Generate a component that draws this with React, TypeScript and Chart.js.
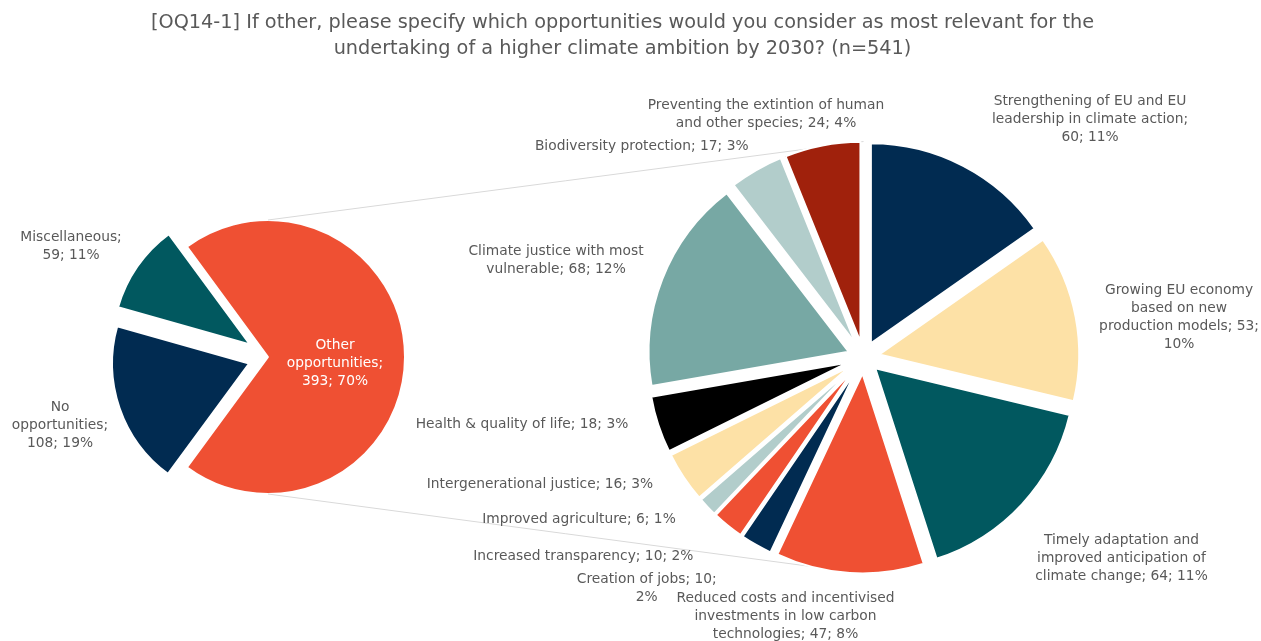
import React, { useEffect, useRef } from "react";
import { Chart, registerables } from "chart.js";

Chart.register(...registerables);

// ---------- DATA ----------
const titleLines = [
  "[OQ14-1] If other, please specify which opportunities would you consider as most relevant for the",
  "undertaking of a higher climate ambition by 2030? (n=541)",
];

// Main (left) pie
const mainCategories = ["Other\nopportunities", "No\nopportunities", "Miscellaneous"];
const mainValues = [393, 108, 59];
const mainPercents = ["70%", "19%", "11%"];
const mainSeparators = [["\n", " "], ["\n", " "], ["\n", " "]];

// Secondary (right) pie – breakdown of "Other opportunities"
const subCategories = [
  "Strengthening of EU and EU\nleadership in climate action",
  "Growing EU economy\nbased on new\nproduction models",
  "Timely adaptation and\nimproved anticipation of\nclimate change",
  "Reduced costs and incentivised\ninvestments in low carbon\ntechnologies",
  "Creation of jobs",
  "Increased transparency",
  "Improved agriculture",
  "Intergenerational justice",
  "Health & quality of life",
  "Climate justice with most\nvulnerable",
  "Biodiversity protection",
  "Preventing the extintion of human\nand other species",
];
const subValues = [60, 53, 64, 47, 10, 10, 6, 16, 18, 68, 17, 24];
const subPercents = ["11%", "10%", "11%", "8%", "2%", "2%", "1%", "3%", "3%", "12%", "3%", "4%"];
const subSeparators = [
  ["\n", " "], [" ", "\n"], [" ", " "], [" ", " "], [" ", "\n"], [" ", " "],
  [" ", " "], [" ", " "], [" ", " "], [" ", " "], [" ", " "], [" ", " "],
];

// ---------- STYLE / LAYOUT ----------
const W = 1261;
const H = 641;
const TEXT = "#595959";
const FONT = "'DejaVu Sans', 'Open Sans', sans-serif";
const LABEL_SIZE = 13.8;
const LINE_H = 18;
const LABEL_GAP = 20;

const NAVY = "#012B51";
const YELLOW = "#FDE1A6";
const DTEAL = "#01585F";
const ORANGE = "#EF5033";
const LBLUE = "#B2CDCB";
const BLACK = "#000000";
const TEAL = "#77A8A4";
const DRED = "#A0210C";

const mainColors = [ORANGE, NAVY, DTEAL];
const mainExplode = [0, 20, 22];
const mainInside = [true, false, false];
const mainLabelColors = ["#FFFFFF", TEXT, TEXT];
const mainNudges = [[-1.5, 6], [-40.6, 10.5], [-49.8, -9.1]];
const MAIN_CENTER = { x: 268, y: 357 };
const MAIN_RADIUS = 137;

const subColors = [NAVY, YELLOW, DTEAL, ORANGE, NAVY, ORANGE, LBLUE, YELLOW, BLACK, TEAL, LBLUE, DRED];
const SUB_EXPLODE = 16;
const subNudges = [
  [117.6, -28.4], [83.7, 3.9], [84.9, 40.1], [-62.9, 23], [-99.6, 26.1], [-131.9, 14.9],
  [-114, -1.7], [-127.1, -4.3], [-117.2, -6.8], [-87.6, -11.8], [-104.6, -5.9], [-52.5, -11.1],
];
const SUB_CENTER = { x: 863.5, y: 357.5 };
const SUB_RADIUS = 200;

const TITLE_POS = { x: 622.5, y: 23, lineH: 25.5, size: 19.3 };

// ---------- HELPERS ----------
function buildLines(cats: string[], vals: number[], pcts: string[], seps: string[][]) {
  return cats.map((c, i) => `${c};${seps[i][0]}${vals[i]};${seps[i][1]}${pcts[i]}`.split("\n"));
}

function paddingFor(center: { x: number; y: number }, half: number) {
  return {
    left: center.x - half,
    right: W - center.x - half,
    top: center.y - half,
    bottom: H - center.y - half,
  };
}

// Explodes each slice outwards along its bisector by a fixed pixel distance
function explodePlugin(explode: number[]) {
  return {
    id: "explodeSlices",
    beforeDatasetsDraw(chart: any) {
      const meta = chart.getDatasetMeta(0);
      meta.data.forEach((arc: any, i: number) => {
        if (arc.__exploded) return;
        const proto = Object.getPrototypeOf(arc);
        const d = explode[i] || 0;
        arc.draw = function (ctx: CanvasRenderingContext2D) {
          const half = (this.startAngle + this.endAngle) / 2;
          ctx.save();
          ctx.translate(Math.cos(half) * d, Math.sin(half) * d);
          proto.draw.call(this, ctx);
          ctx.restore();
        };
        arc.__exploded = true;
      });
    },
  };
}

function labelPlugin(lines: string[][], nudges: number[][], inside: boolean[], colors: string[], explode: number[]) {
  return {
    id: "sliceLabels",
    afterDatasetsDraw(chart: any) {
      const ctx = chart.ctx;
      const meta = chart.getDatasetMeta(0);
      ctx.save();
      ctx.font = `${LABEL_SIZE}px ${FONT}`;
      ctx.textAlign = "center";
      ctx.textBaseline = "middle";
      meta.data.forEach((arc: any, i: number) => {
        const p = arc.getProps(["x", "y", "startAngle", "endAngle", "outerRadius"], true);
        const mid = (p.startAngle + p.endAngle) / 2;
        const off = explode[i] || 0;
        const dist = inside[i] ? p.outerRadius * 0.5 + off : p.outerRadius + off + LABEL_GAP;
        const ax = p.x + Math.cos(mid) * dist + nudges[i][0];
        const ay = p.y + Math.sin(mid) * dist + nudges[i][1];
        const ls = lines[i];
        ctx.fillStyle = colors[i];
        ls.forEach((t, k) => ctx.fillText(t, ax, ay + (k - (ls.length - 1) / 2) * LINE_H));
      });
      ctx.restore();
    },
  };
}

export default function App() {
  const leftRef = useRef<HTMLCanvasElement>(null);
  const rightRef = useRef<HTMLCanvasElement>(null);

  useEffect(() => {
    const mainTotal = mainValues.reduce((a, b) => a + b, 0);
    const mainRotation = 90 - ((mainValues[0] / mainTotal) * 360) / 2;
    const subExplode = subValues.map(() => SUB_EXPLODE);

    const titlePlugin = {
      id: "titleText",
      afterDraw(chart: any) {
        const ctx = chart.ctx;
        ctx.save();
        ctx.font = `${TITLE_POS.size}px ${FONT}`;
        ctx.fillStyle = TEXT;
        ctx.textAlign = "center";
        ctx.textBaseline = "middle";
        titleLines.forEach((t, k) => ctx.fillText(t, TITLE_POS.x, TITLE_POS.y + k * TITLE_POS.lineH));
        ctx.restore();
      },
    };

    const left = new Chart(leftRef.current!, {
      type: "pie",
      data: {
        labels: mainCategories.map((c) => c.replace(/\n/g, " ")),
        datasets: [
          {
            data: mainValues,
            backgroundColor: mainColors,
            borderColor: "#FFFFFF",
            borderWidth: 2,
            offset: 0,
            hoverOffset: 0,
          } as any,
        ],
      },
      options: {
        responsive: false,
        animation: false,
        rotation: mainRotation,
        radius: MAIN_RADIUS,
        layout: { padding: paddingFor(MAIN_CENTER, 160) },
        plugins: { legend: { display: false }, tooltip: { enabled: false }, title: { display: false } },
        events: [],
      } as any,
      plugins: [
        explodePlugin(mainExplode),
        titlePlugin,
        labelPlugin(
          buildLines(mainCategories, mainValues, mainPercents, mainSeparators),
          mainNudges,
          mainInside,
          mainLabelColors,
          mainExplode
        ),
      ],
    });

    const connectorPlugin = {
      id: "connectors",
      beforeDatasetsDraw(chart: any) {
        const lm = left.getDatasetMeta(0).data[0] as any;
        const rm = chart.getDatasetMeta(0).data[0] as any;
        if (!lm || !rm) return;
        const lx = lm.x, ly = lm.y, lr = lm.outerRadius;
        const rx = rm.x, ry = rm.y, rr = rm.outerRadius + SUB_EXPLODE;
        const ctx = chart.ctx;
        ctx.save();
        ctx.strokeStyle = "#D9D9D9";
        ctx.lineWidth = 1;
        ctx.beginPath();
        ctx.moveTo(lx, ly - lr);
        ctx.lineTo(rx, ry - rr);
        ctx.moveTo(lx, ly + lr);
        ctx.lineTo(rx, ry + rr);
        ctx.stroke();
        ctx.restore();
      },
    };

    const right = new Chart(rightRef.current!, {
      type: "pie",
      data: {
        labels: subCategories.map((c) => c.replace(/\n/g, " ")),
        datasets: [
          {
            data: subValues,
            backgroundColor: subColors,
            borderColor: "#FFFFFF",
            borderWidth: 2,
            offset: 0,
            hoverOffset: 0,
          } as any,
        ],
      },
      options: {
        responsive: false,
        animation: false,
        rotation: 0,
        radius: SUB_RADIUS,
        layout: { padding: paddingFor(SUB_CENTER, 230) },
        plugins: { legend: { display: false }, tooltip: { enabled: false }, title: { display: false } },
        events: [],
      } as any,
      plugins: [
        connectorPlugin,
        explodePlugin(subExplode),
        labelPlugin(
          buildLines(subCategories, subValues, subPercents, subSeparators),
          subNudges,
          subValues.map(() => false),
          subValues.map(() => TEXT),
          subExplode
        ),
      ],
    });

    return () => {
      right.destroy();
      left.destroy();
    };
  }, []);

  return (
    <div style={{ position: "fixed", left: 0, top: 0, width: W, height: H, background: "#FFFFFF" }}>
      <canvas ref={leftRef} width={W} height={H} style={{ position: "absolute", left: 0, top: 0 }} />
      <canvas ref={rightRef} width={W} height={H} style={{ position: "absolute", left: 0, top: 0 }} />
    </div>
  );
}
